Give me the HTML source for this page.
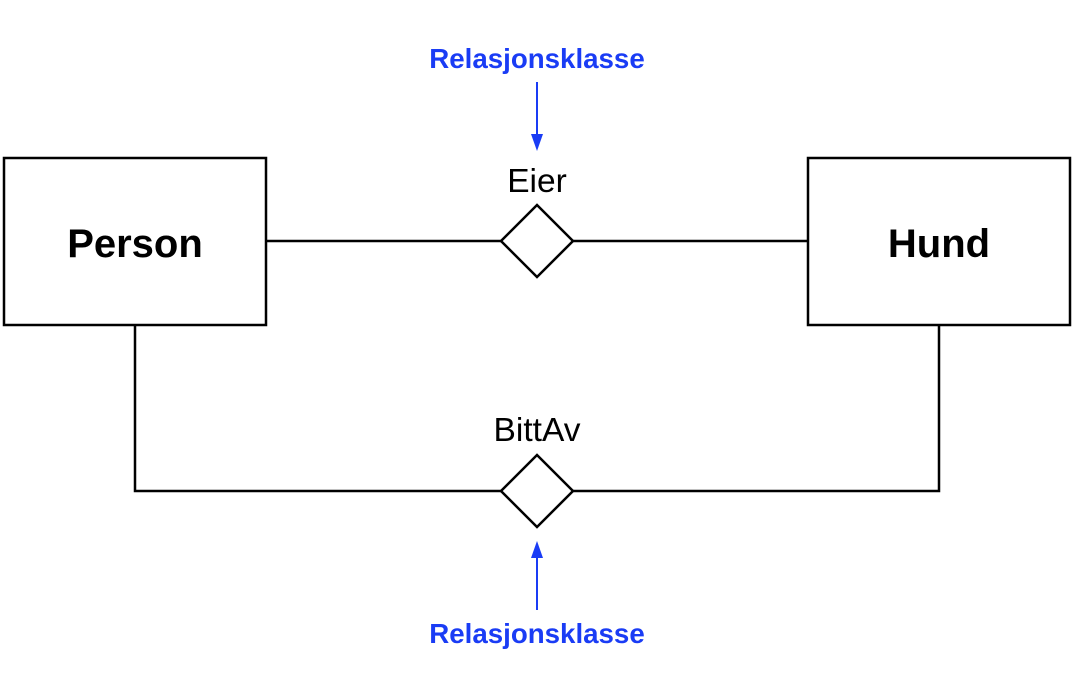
<!DOCTYPE html>
<html><head><meta charset="utf-8"><style>html,body{margin:0;padding:0;background:#fff}</style></head>
<body>
<svg width="1072" height="674" viewBox="0 0 1072 674" xmlns="http://www.w3.org/2000/svg" font-family="Liberation Sans, sans-serif">
<g fill="none" stroke="#000" stroke-width="2.5">
<rect x="4" y="158" width="262" height="167" fill="#fff"/>
<rect x="808" y="158" width="262" height="167" fill="#fff"/>
<line x1="266" y1="241" x2="501" y2="241"/>
<line x1="573" y1="241" x2="808" y2="241"/>
<polygon points="537,205 573,241 537,277 501,241" fill="#fff"/>
<polyline points="135,325 135,491 501,491"/>
<polyline points="573,491 939,491 939,325"/>
<polygon points="537,455 573,491 537,527 501,491" fill="#fff"/>
</g>
<g stroke="#1a3cf5" stroke-width="2" fill="#1a3cf5">
<line x1="537" y1="82" x2="537" y2="136"/>
<polygon points="531,134 543,134 537,151" stroke="none"/>
<line x1="537" y1="610" x2="537" y2="556"/>
<polygon points="531,558 543,558 537,541" stroke="none"/>
</g>
<g text-anchor="middle">
<text x="537" y="68" font-size="27.7" font-weight="bold" fill="#1a3cf5">Relasjonsklasse</text>
<text x="537" y="643" font-size="27.7" font-weight="bold" fill="#1a3cf5">Relasjonsklasse</text>
<text x="537" y="192" font-size="33.5">Eier</text>
<text x="537" y="441" font-size="33.5">BittAv</text>
<text x="135" y="257" font-size="40" font-weight="bold">Person</text>
<text x="939" y="257" font-size="40" font-weight="bold">Hund</text>
</g>
</svg>
</body></html>
